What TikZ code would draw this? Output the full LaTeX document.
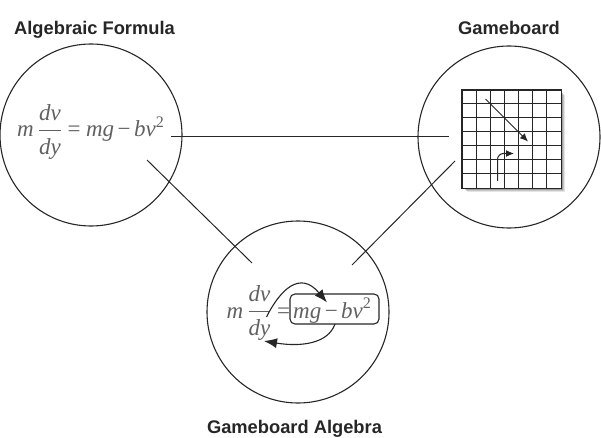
\documentclass[tikz,border=0pt]{standalone}
\usepackage{amsmath}
\usepackage{fontspec}
\setmainfont{Liberation Serif}
\newfontfamily\labelfont{Liberation Sans}
\usetikzlibrary{arrows.meta}
\tikzset{
  ring/.style={circle, draw=black!85, line width=1.1pt, minimum size=182pt, inner sep=0pt},
  title/.style={font=\labelfont\bfseries\fontsize{18.3}{20}\selectfont, text=black!85, inner sep=0pt},
  eq/.style={text=black!62, font=\fontsize{23}{26}\selectfont, inner sep=0pt},
  link/.style={draw=black!85, line width=1pt},
  gridline/.style={draw=black!85, line width=1pt},
  move/.style={draw=black!85, line width=1pt, -{Latex[length=8pt,width=7pt]}},
  swap/.style={draw=black!85, line width=1.1pt, -{Latex[length=13pt,width=10pt]}},
}
\newcommand{\iv}[1]{\text{\itshape #1}}
\newcommand{\eqs}{\mathrel{\text{=}}}
\newcommand{\mns}{\mathbin{\text{\char"2212}}}
% tighter spacing around = and the minus sign
\thickmuskip=4mu
\medmuskip=2.5mu
\begin{document}
\begin{tikzpicture}[x=1pt,y=-1pt]
\useasboundingbox (0,0) rectangle (601,438);

% three circles
\node[ring] (formula) at (91,135) {};
\node[ring] (board) at (509,137) {};
\node[ring] (algebra) at (298,312) {};

% titles
\node[title, anchor=base] (tformula) at (94.5,35) {Algebraic Formula};
\node[title, anchor=base] (tboard) at (509,35) {Gameboard};
\node[title, anchor=base] (talgebra) at (294.5,433) {Gameboard Algebra};

% formula in the left circle
\node[eq, anchor=base west] (feq) at (17,137)
  {$\iv{m}\,\dfrac{\iv{dv}}{\iv{dy}} \eqs \iv{mg} \mns \iv{bv}^{\text{2}}$};

% gameboard grid with a soft shadow
\foreach \k/\o in {5/0.10,4/0.14,3/0.18,2/0.22} {
  \fill[black, opacity=\o] ({462+\k},{90+\k}) rectangle ({561+\k-1},{188+\k-1});
}
\node[fill=white, minimum width=99pt, minimum height=98pt, inner sep=0pt, anchor=north west] (grid) at (462,90) {};
\foreach \i in {1,...,6} {
  \draw[gridline] ({462+\i*14.14},90) -- ({462+\i*14.14},188);
  \draw[gridline] (462,{90+\i*14}) -- (561,{90+\i*14});
}
\draw[black!85, line width=1.2pt] (grid.north west) rectangle (grid.south east);
\coordinate (d1) at (485.5,99);
\coordinate (d2) at (528,141.5);
\draw[move] (d1) -- (d2);
\coordinate (b1) at (497.5,181);
\coordinate (b2) at (514,153.5);
\draw[move, rounded corners=6pt] (b1) |- (b2);

% formula in the bottom circle
\node[eq, anchor=base west] (lhs) at (226.5,318)
  {$\iv{m}\,\dfrac{\iv{dv}}{\iv{dy}} \eqs$};
\node[eq, anchor=base west] (rhs) at (293,318)
  {$\iv{mg} \mns \iv{bv}^{\text{2}}$};
\draw[black!85, line width=1.1pt, rounded corners=5pt] (290,294) rectangle (379,324);
\coordinate (s1) at (266.5,317);
\coordinate (s2) at (327,302.5);
\draw[swap] (s1) .. controls (280,290) and (300,270) .. (s2);
\coordinate (s3) at (335,324);
\coordinate (s4) at (264,341);
\draw[swap] (s3) .. controls (328,344) and (300,347) .. (s4);

% connectors between circles
\coordinate (hA) at (171,137);
\coordinate (hB) at (449,137);
\draw[link] (hA) -- (hB);
\coordinate (lA) at (147,160);
\coordinate (lB) at (252,263);
\draw[link] (lA) -- (lB);
\coordinate (rA) at (455,161);
\coordinate (rB) at (352,265);
\draw[link] (rA) -- (rB);
\end{tikzpicture}
\end{document}
